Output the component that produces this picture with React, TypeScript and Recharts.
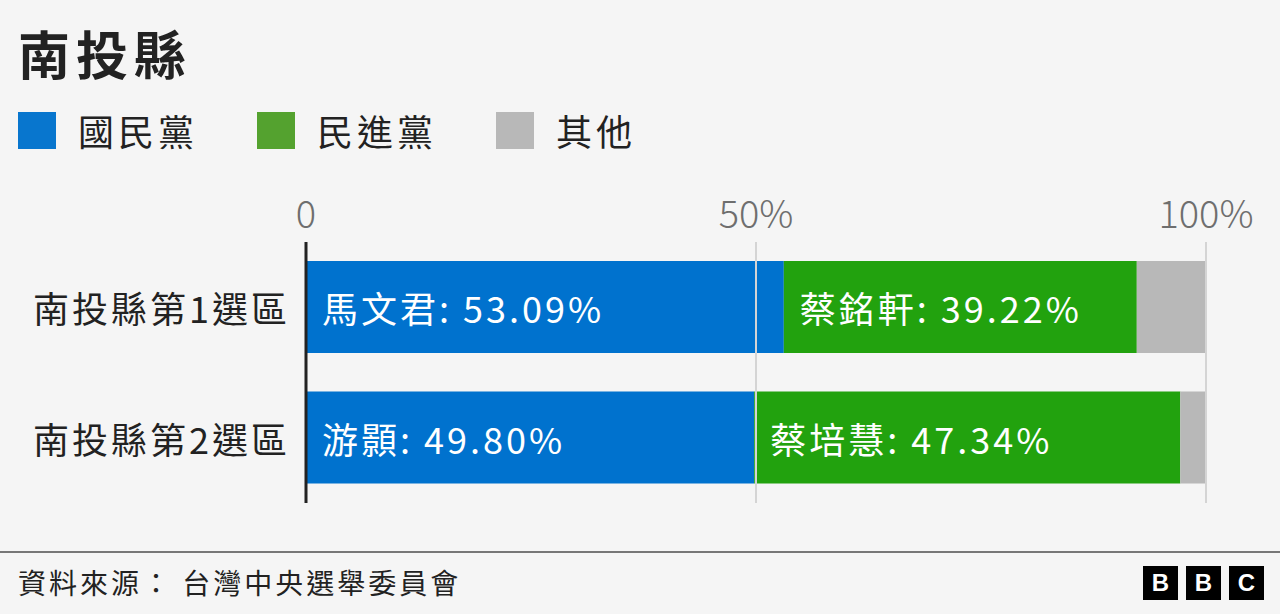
import { BarChart, Bar, XAxis, YAxis, ReferenceLine, LabelList } from "recharts";

const districts = ["南投縣第1選區", "南投縣第2選區"];
const kmtShare = [53.09, 49.8];
const dppShare = [39.22, 47.34];
const otherShare = [7.69, 2.86];
const kmtNames = ["馬文君", "游顥"];
const dppNames = ["蔡銘軒", "蔡培慧"];
const xTicks = [0, 50, 100];

const partyLegend = [
  { label: "國民黨", color: "#0876CE" },
  { label: "民進黨", color: "#54A22F" },
  { label: "其他", color: "#B8B8B8" },
];

const FONT = '"Noto Sans CJK TC", "Noto Sans", sans-serif';

const rows = districts.map((d, i) => ({
  district: d,
  kmt: kmtShare[i],
  dpp: dppShare[i],
  other: otherShare[i],
}));

function barLabel(names: string[]) {
  return (props: any) => {
    const { x, y, height, value, index } = props;
    return (
      <text
        x={x + 16}
        y={y + height / 2}
        fill="#fff"
        fontSize={36}
        letterSpacing={3}
        fontFamily={FONT}
        dominantBaseline="central"
      >
        {`${names[index]}: ${Number(value).toFixed(2)}%`}
      </text>
    );
  };
}

function TopTick(props: any) {
  const { x, payload } = props;
  return (
    <text x={x} y={228} textAnchor="middle" fill="#6e6e6e" fontSize={38} fontFamily={FONT} fontWeight={300}>
      {payload.value === 0 ? "0" : `${payload.value}%`}
    </text>
  );
}

function DistrictTick(props: any) {
  const { x, y, payload } = props;
  return (
    <text
      x={x}
      y={y}
      textAnchor="end"
      fill="#222"
      fontSize={36}
      letterSpacing={3}
      fontFamily={FONT}
      dominantBaseline="central"
    >
      {payload.value}
    </text>
  );
}

export default function App() {
  return (
    <div
      style={{
        position: "absolute",
        top: 0,
        left: 0,
        width: 1280,
        height: 614,
        background: "#f5f5f5",
        fontFamily: FONT,
        color: "#222",
        overflow: "hidden",
      }}
    >
      <div style={{ position: "absolute", left: 18, top: 18, fontSize: 52, fontWeight: 700, letterSpacing: 6, lineHeight: "70px" }}>
        南投縣
      </div>

      <div style={{ position: "absolute", left: 18, top: 108, display: "flex", alignItems: "center" }}>
        {partyLegend.map((p) => (
          <div key={p.label} style={{ display: "flex", alignItems: "center", marginRight: 59 }}>
            <div style={{ width: 38, height: 37, background: p.color, marginRight: 22 }} />
            <span style={{ fontSize: 36, letterSpacing: 4, lineHeight: "44px" }}>{p.label}</span>
          </div>
        ))}
      </div>

      <div style={{ position: "absolute", left: 0, top: 0 }}>
        <BarChart
          width={1280}
          height={614}
          data={rows}
          layout="vertical"
          margin={{ top: 212, right: 74, bottom: 111, left: 0 }}
          barSize={92}
        >
          <XAxis
            type="number"
            orientation="top"
            domain={[0, 100]}
            ticks={xTicks}
            axisLine={false}
            tickLine={false}
            height={30}
            tick={<TopTick />}
            interval={0}
          />
          <YAxis
            type="category"
            dataKey="district"
            width={306}
            axisLine={{ stroke: "#222", strokeWidth: 3 }}
            tickLine={false}
            tickMargin={10}
            tick={<DistrictTick />}
          />
          <Bar dataKey="kmt" stackId="a" fill="#0072CE" isAnimationActive={false}>
            <LabelList dataKey="kmt" content={barLabel(kmtNames)} />
          </Bar>
          <Bar dataKey="dpp" stackId="a" fill="#22A20E" isAnimationActive={false}>
            <LabelList dataKey="dpp" content={barLabel(dppNames)} />
          </Bar>
          <Bar dataKey="other" stackId="a" fill="#B8B8B8" isAnimationActive={false} />
          <ReferenceLine x={50} stroke="#d4d4d4" strokeWidth={2} />
          <ReferenceLine x={100} stroke="#d4d4d4" strokeWidth={2} />
        </BarChart>
      </div>

      <div style={{ position: "absolute", left: 0, top: 551, width: 1280, height: 2, background: "#777" }} />
      <div style={{ position: "absolute", left: 18, top: 562, fontSize: 28, letterSpacing: 3, lineHeight: "40px", color: "#222" }}>
        資料來源： 台灣中央選舉委員會
      </div>
      <div style={{ position: "absolute", left: 1143, top: 566, display: "flex" }}>
        {["B", "B", "C"].map((c, i) => (
          <div
            key={i}
            style={{
              width: 35,
              height: 34,
              background: "#000",
              color: "#fff",
              marginRight: 8,
              display: "flex",
              alignItems: "center",
              justifyContent: "center",
              fontFamily: "Arial, 'Liberation Sans', sans-serif",
              fontWeight: 700,
              fontSize: 24,
            }}
          >
            {c}
          </div>
        ))}
      </div>
    </div>
  );
}
